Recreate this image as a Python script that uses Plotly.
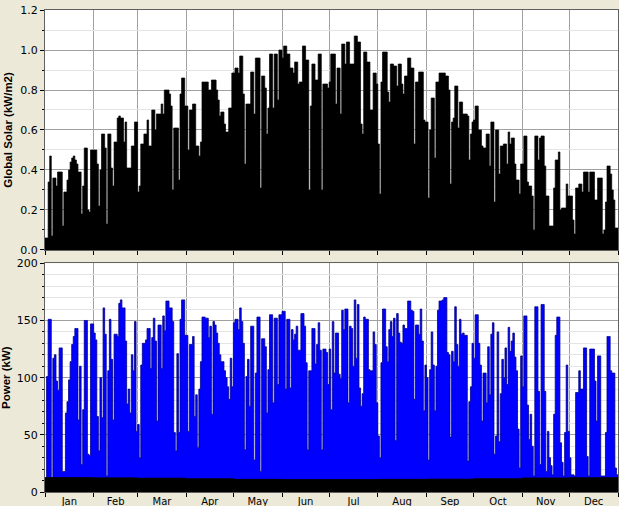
import numpy as np
import plotly.graph_objects as go

# ---- data (daily peaks) ----
month_names = ["Jan", "Feb", "Mar", "Apr", "May", "Jun",
               "Jul", "Aug", "Sep", "Oct", "Nov", "Dec"]
month_starts = [0, 31, 59, 90, 120, 151, 181, 212, 243, 273, 304, 334, 365]

solar = [
    0.06, 0.06, 0.34, 0.47, 0.07, 0.36, 0.36, 0.32, 0.39, 0.39,
    0.39, 0.12, 0.29, 0.29, 0.35, 0.40, 0.44, 0.46, 0.47, 0.45,
    0.43, 0.39, 0.39, 0.18, 0.32, 0.51, 0.51, 0.20, 0.19, 0.50,
    0.50, 0.50, 0.50, 0.43, 0.22, 0.40, 0.58, 0.58, 0.51, 0.13,
    0.58, 0.58, 0.41, 0.32, 0.54, 0.54, 0.66, 0.67, 0.66, 0.66,
    0.54, 0.64, 0.41, 0.41, 0.41, 0.52, 0.52, 0.64, 0.64, 0.29,
    0.32, 0.53, 0.53, 0.58, 0.58, 0.65, 0.52, 0.52, 0.70, 0.70,
    0.60, 0.68, 0.68, 0.68, 0.73, 0.68, 0.80, 0.80, 0.80, 0.78,
    0.72, 0.30, 0.61, 0.61, 0.61, 0.35, 0.78, 0.86, 0.86, 0.72,
    0.72, 0.50, 0.70, 0.70, 0.73, 0.73, 0.52, 0.52, 0.47, 0.54,
    0.84, 0.84, 0.84, 0.84, 0.80, 0.80, 0.85, 0.85, 0.85, 0.80,
    0.75, 0.67, 0.69, 0.69, 0.63, 0.59, 0.59, 0.71, 0.71, 0.885,
    0.885, 0.91, 0.91, 0.885, 0.97, 0.97, 0.78, 0.43, 0.73, 0.73,
    0.73, 0.89, 0.89, 0.68, 0.96, 0.96, 0.96, 0.31, 0.87, 0.87,
    0.81, 0.58, 0.71, 0.98, 0.98, 0.71, 0.98, 0.98, 0.75, 1.00,
    1.00, 0.96, 1.02, 1.02, 0.98, 0.98, 0.91, 0.91, 0.885, 0.94,
    0.94, 0.83, 0.84, 0.84, 1.02, 1.02, 0.95, 0.95, 0.30, 0.72,
    0.93, 0.93, 0.85, 0.85, 0.98, 0.98, 0.30, 0.83, 0.83, 0.83,
    0.81, 0.84, 0.98, 0.98, 0.98, 0.73, 0.91, 0.91, 0.68, 1.03,
    1.03, 0.93, 1.04, 1.04, 0.93, 0.93, 0.93, 1.07, 1.07, 1.04,
    1.04, 0.63, 0.58, 0.99, 0.99, 0.94, 0.94, 0.70, 0.70, 0.885,
    0.885, 0.83, 0.53, 0.28, 0.84, 0.99, 0.99, 0.99, 0.79, 0.74,
    0.93, 0.93, 0.92, 0.92, 0.82, 0.93, 0.93, 0.83, 0.78, 0.87,
    0.87, 0.96, 0.96, 0.91, 0.91, 0.53, 0.84, 0.84, 0.89, 0.89,
    0.89, 0.65, 0.64, 0.64, 0.26, 0.60, 0.76, 0.76, 0.46, 0.84,
    0.84, 0.885, 0.885, 0.885, 0.885, 0.87, 0.87, 0.80, 0.33, 0.64,
    0.66, 0.82, 0.82, 0.61, 0.74, 0.74, 0.68, 0.68, 0.68, 0.67,
    0.45, 0.58, 0.64, 0.65, 0.72, 0.72, 0.60, 0.60, 0.52, 0.51,
    0.51, 0.58, 0.58, 0.42, 0.64, 0.64, 0.24, 0.60, 0.60, 0.38,
    0.52, 0.52, 0.53, 0.53, 0.43, 0.59, 0.53, 0.56, 0.56, 0.43,
    0.35, 0.35, 0.28, 0.43, 0.43, 0.57, 0.57, 0.34, 0.32, 0.32,
    0.27, 0.10, 0.57, 0.57, 0.45, 0.56, 0.57, 0.57, 0.42, 0.27,
    0.27, 0.12, 0.12, 0.12, 0.31, 0.45, 0.45, 0.49, 0.20, 0.21,
    0.21, 0.21, 0.33, 0.27, 0.27, 0.27, 0.15, 0.08, 0.31, 0.31,
    0.33, 0.33, 0.29, 0.39, 0.39, 0.39, 0.29, 0.39, 0.39, 0.39,
    0.25, 0.25, 0.36, 0.36, 0.36, 0.08, 0.10, 0.24, 0.42, 0.42,
    0.38, 0.30, 0.25, 0.11, 0.11,
]

power = [
    12, 101, 151, 151, 12, 117, 120, 97, 89, 126,
    126, 18, 18, 69, 79, 98, 114, 129, 136, 143,
    143, 63, 110, 24, 72, 150, 150, 33, 32, 147,
    147, 139, 133, 66, 36, 100, 65, 161, 138, 14,
    106, 151, 116, 63, 138, 138, 136, 165, 168, 161,
    161, 132, 77, 90, 69, 120, 106, 149, 53, 59,
    30, 111, 130, 130, 133, 143, 143, 108, 135, 152,
    132, 62, 146, 146, 108, 154, 141, 167, 167, 161,
    161, 149, 52, 36, 121, 52, 151, 168, 168, 137,
    137, 53, 129, 129, 136, 66, 85, 39, 90, 114,
    153, 153, 152, 152, 135, 145, 68, 149, 146, 139,
    130, 120, 114, 114, 106, 100, 92, 81, 117, 92,
    148, 151, 151, 142, 161, 149, 130, 37, 101, 116,
    75, 145, 145, 28, 104, 153, 153, 18, 134, 134,
    127, 69, 107, 155, 155, 78, 152, 152, 94, 155,
    155, 158, 158, 90, 151, 151, 91, 142, 133, 138,
    145, 124, 124, 156, 156, 145, 113, 37, 106, 106,
    143, 143, 112, 129, 148, 124, 37, 125, 125, 122,
    94, 125, 72, 149, 104, 139, 139, 103, 99, 159,
    142, 160, 160, 78, 145, 143, 110, 168, 117, 164,
    91, 75, 86, 153, 151, 151, 107, 106, 106, 140,
    129, 78, 49, 30, 113, 160, 160, 127, 114, 142,
    149, 136, 152, 45, 156, 139, 131, 130, 146, 143,
    143, 167, 167, 159, 158, 81, 146, 146, 138, 160,
    132, 71, 111, 100, 28, 107, 140, 111, 71, 110,
    159, 167, 167, 168, 170, 170, 122, 120, 48, 123,
    114, 162, 129, 110, 151, 138, 139, 137, 137, 27,
    79, 92, 130, 117, 155, 155, 130, 111, 62, 104,
    104, 78, 127, 85, 138, 148, 33, 49, 140, 44,
    86, 116, 100, 126, 94, 144, 123, 132, 139, 118,
    106, 55, 21, 119, 92, 154, 154, 76, 46, 68,
    40, 14, 162, 162, 88, 24, 164, 164, 88, 18,
    53, 30, 23, 15, 68, 137, 153, 153, 43, 26,
    14, 52, 111, 53, 30, 15, 15, 14, 87, 87,
    106, 90, 90, 126, 126, 31, 14, 125, 125, 125,
    97, 62, 119, 119, 14, 14, 14, 52, 136, 136,
    106, 104, 104, 21, 15,
]

# black baseline band in the power panel (monthly level, kW)
band = [12.5, 12.3, 12.0, 11.5, 11.0, 10.8, 10.8, 11.0, 11.2, 11.5, 12.2, 12.4]

assert len(solar) == 365 and len(power) == 365

days_x = np.arange(len(solar) + 1)
solar_y = solar + [solar[-1]]
power_y = power + [power[-1]]
band_x = month_starts
band_y = band + [band[-1]]
mid_months = [(month_starts[i] + month_starts[i + 1]) / 2 for i in range(12)]

BG = "#ECE9D8"
GRID = "#A0A0A0"
MINOR = "#E4E4E4"
YTICKFONT = dict(family="DejaVu Sans", size=11, color="#000000")
XTICKFONT = dict(family="DejaVu Sans", size=10, color="#000000")
TITLEFONT = dict(family="Liberation Sans", size=11.5, color="#000000")

fig = go.Figure()
fig.add_trace(go.Scatter(
    x=days_x, y=solar_y, mode="lines", line=dict(shape="hv", color="#000000", width=0.7),
    fill="tozeroy", fillcolor="#000000", xaxis="x", yaxis="y", showlegend=False,
    hoverinfo="skip"))
fig.add_trace(go.Scatter(
    x=days_x, y=power_y, mode="lines", line=dict(shape="hv", color="#00008B", width=0.8),
    fill="tozeroy", fillcolor="#0000FF", xaxis="x2", yaxis="y2", showlegend=False,
    hoverinfo="skip"))
fig.add_trace(go.Scatter(
    x=band_x, y=band_y, mode="lines", line=dict(shape="hv", color="#000000", width=1),
    fill="tozeroy", fillcolor="#000000", xaxis="x2", yaxis="y2", showlegend=False,
    hoverinfo="skip"))

xcommon = dict(
    range=[0, 365], tickmode="array", tickvals=mid_months, ticktext=month_names,
    ticks="", showgrid=False, zeroline=False, tickfont=XTICKFONT, automargin=False,
    showline=True, linecolor="#606060", linewidth=1, mirror=True,
    minor=dict(tickmode="array", tickvals=month_starts, showgrid=True,
               gridcolor=GRID, gridwidth=1, ticks="outside", ticklen=4,
               tickcolor="#000000"),
)

fig.update_layout(
    width=619, height=506,
    paper_bgcolor=BG, plot_bgcolor="#FFFFFF",
    margin=dict(l=45, r=1, t=10, b=14, autoexpand=False),
    xaxis=dict(xcommon, domain=[0, 1], anchor="y", showticklabels=False),
    xaxis2=dict(xcommon, domain=[0, 1], anchor="y2", matches="x", ticklabelstandoff=0),
    yaxis=dict(
        domain=[0.5021, 1.0], range=[0, 1.2], dtick=0.2, tick0=0, tickformat=".1f",
        showgrid=True, gridcolor=GRID, gridwidth=1, zeroline=False, automargin=False,
        ticks="outside", ticklen=4, tickcolor="#000000", tickfont=YTICKFONT,
        showline=True, linecolor="#606060", mirror=True,
        minor=dict(dtick=0.1, showgrid=True, gridcolor=MINOR, ticks="outside",
                   ticklen=2, tickcolor="#000000"),
        title=dict(text="<b>Global Solar (kW/m2)</b>", font=TITLEFONT, standoff=5),
    ),
    yaxis2=dict(
        domain=[0, 0.4745], range=[0, 200], dtick=50, tick0=0,
        showgrid=True, gridcolor=GRID, gridwidth=1, zeroline=False, automargin=False,
        ticks="outside", ticklen=4, tickcolor="#000000", tickfont=YTICKFONT,
        showline=True, linecolor="#606060", mirror=True,
        minor=dict(dtick=10, showgrid=True, gridcolor=MINOR, ticks="outside",
                   ticklen=2, tickcolor="#000000"),
        title=dict(text="<b>Power (kW)</b>", font=TITLEFONT, standoff=5),
    ),
)

fig.write_html(
    "out.html",
    config={"displayModeBar": False},
    post_script="document.body.style.margin='0';document.body.style.background='#ECE9D8';",
)
